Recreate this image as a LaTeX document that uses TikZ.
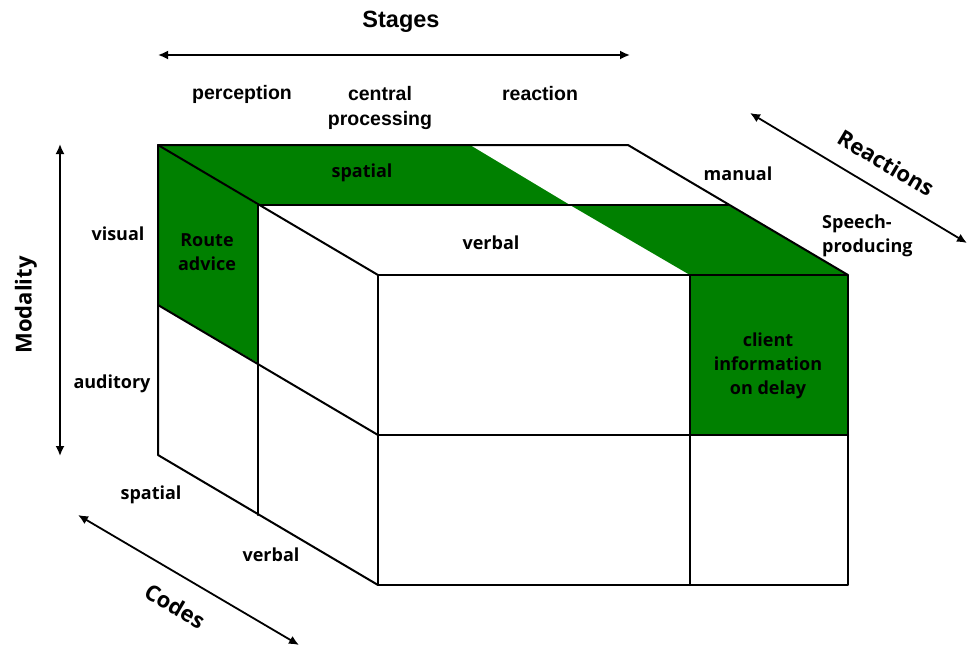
\documentclass[tikz,border=0pt]{standalone}
\usepackage{fontspec}
\setmainfont{Open Sans}
\newfontfamily\headfont{Liberation Sans}
\usetikzlibrary{arrows.meta}
\definecolor{cellgreen}{RGB}{0,128,0}

\begin{document}
\begin{tikzpicture}[x=1pt,y=-1pt,
  edge/.style={line width=2pt, line cap=round, line join=round},
  axisarrow/.style={line width=1.8pt, {Latex[length=10pt,width=9pt]}-{Latex[length=10pt,width=9pt]}},
  lbl/.style={font=\bfseries\fontsize{18}{24}\selectfont, align=center, inner sep=0pt},
  axistitle/.style={font=\bfseries\fontsize{22}{26}\selectfont, inner sep=0pt},
  stagelbl/.style={font=\headfont\bfseries\fontsize{19.5}{25}\selectfont, align=center, inner sep=0pt}]

\useasboundingbox (0,0) rectangle (968,646);

% cube corners: back face (b..), middle depth (m..), front face (f..)
\coordinate (btl) at (158,145);
\coordinate (btr) at (628,145);
\coordinate (bml) at (158,305);
\coordinate (bbl) at (158,455);
\coordinate (mtl) at (258,205);
\coordinate (mtr) at (728,205);
\coordinate (mml) at (258,363);
\coordinate (mbl) at (258,515);
\coordinate (ftl) at (378,275);
\coordinate (ftr) at (848,275);
\coordinate (fml) at (378,435);
\coordinate (fmr) at (848,435);
\coordinate (fbl) at (378,585);
\coordinate (fbr) at (848,585);
% stage divider on top and front faces
\coordinate (bdiv) at (470,145);
\coordinate (mdiv) at (570,205);
\coordinate (fdiv) at (690,275);
\coordinate (fdivm) at (690,435);
\coordinate (fdivb) at (690,585);

% highlighted cells
\fill[cellgreen] (btl) -- (bdiv) -- (mdiv) -- (mtl) -- cycle;
\fill[cellgreen] (mdiv) -- (mtr) -- (ftr) -- (fdiv) -- cycle;
\fill[cellgreen] (btl) -- (mtl) -- (mml) -- (bml) -- cycle;
\fill[cellgreen] (fdiv) -- (ftr) -- (fmr) -- (fdivm) -- cycle;

% cube outline
\draw[edge] (btl) -- (btr) -- (ftr);
\draw[edge] (ftl) rectangle (fbr);
\draw[edge] (btl) -- (bbl) -- (fbl);
\draw[edge] (btl) -- (ftl);
% inner grid lines
\draw[edge] (fml) -- (fmr);
\draw[edge] (fdiv) -- (fdivb);
\draw[edge] (bml) -- (fml);
\draw[edge] (mtl) -- (mbl);
\draw[edge] (mtl) -- (mtr);

% axis arrows
\coordinate (sA) at (158,55);
\coordinate (sB) at (630,55);
\coordinate (mA) at (60,144);
\coordinate (mB) at (60,456);
\coordinate (cA) at (78,515);
\coordinate (cB) at (299,645);
\coordinate (rA) at (750,113);
\coordinate (rB) at (967,243);
\draw[axisarrow] (sA) -- (sB);
\draw[axisarrow] (mA) -- (mB);
\draw[axisarrow] (cA) -- (cB);
\draw[axisarrow] (rA) -- (rB);

% axis titles
\node[axistitle, font=\headfont\bfseries\fontsize{23.5}{28}\selectfont] (stages) at (401,22) {Stages};
\node[axistitle, rotate=90] (modality) at (26,305) {Modality};
\node[axistitle, rotate=-30.6] (codes) at (175,606) {Codes};
\node[axistitle, rotate=-30.6] (reactions) at (886,163) {Reactions};

% stage labels
\node[stagelbl] (perception) at (242,94) {perception};
\node[stagelbl, anchor=north] (central) at (380,86) {central\\processing};
\node[stagelbl] (reaction) at (540,94) {reaction};

% modality labels
\node[lbl] (visual) at (118,234) {visual};
\node[lbl] (auditory) at (112,384) {auditory};

% code labels
\node[lbl] (codespatial) at (151,495) {spatial};
\node[lbl] (codeverbal) at (271,555) {verbal};

% reaction labels
\node[lbl] (manual) at (738,174) {manual};
\node[lbl, anchor=west, align=left] (speech) at (822,236) {Speech-\\producing};

% face labels
\node[lbl] (topspatial) at (362,173) {spatial};
\node[lbl] (topverbal) at (491,243) {verbal};
\node[lbl] (route) at (207,252) {Route\\advice};
\node[lbl] (client) at (768,366) {client\\information\\on delay};

\end{tikzpicture}
\end{document}
